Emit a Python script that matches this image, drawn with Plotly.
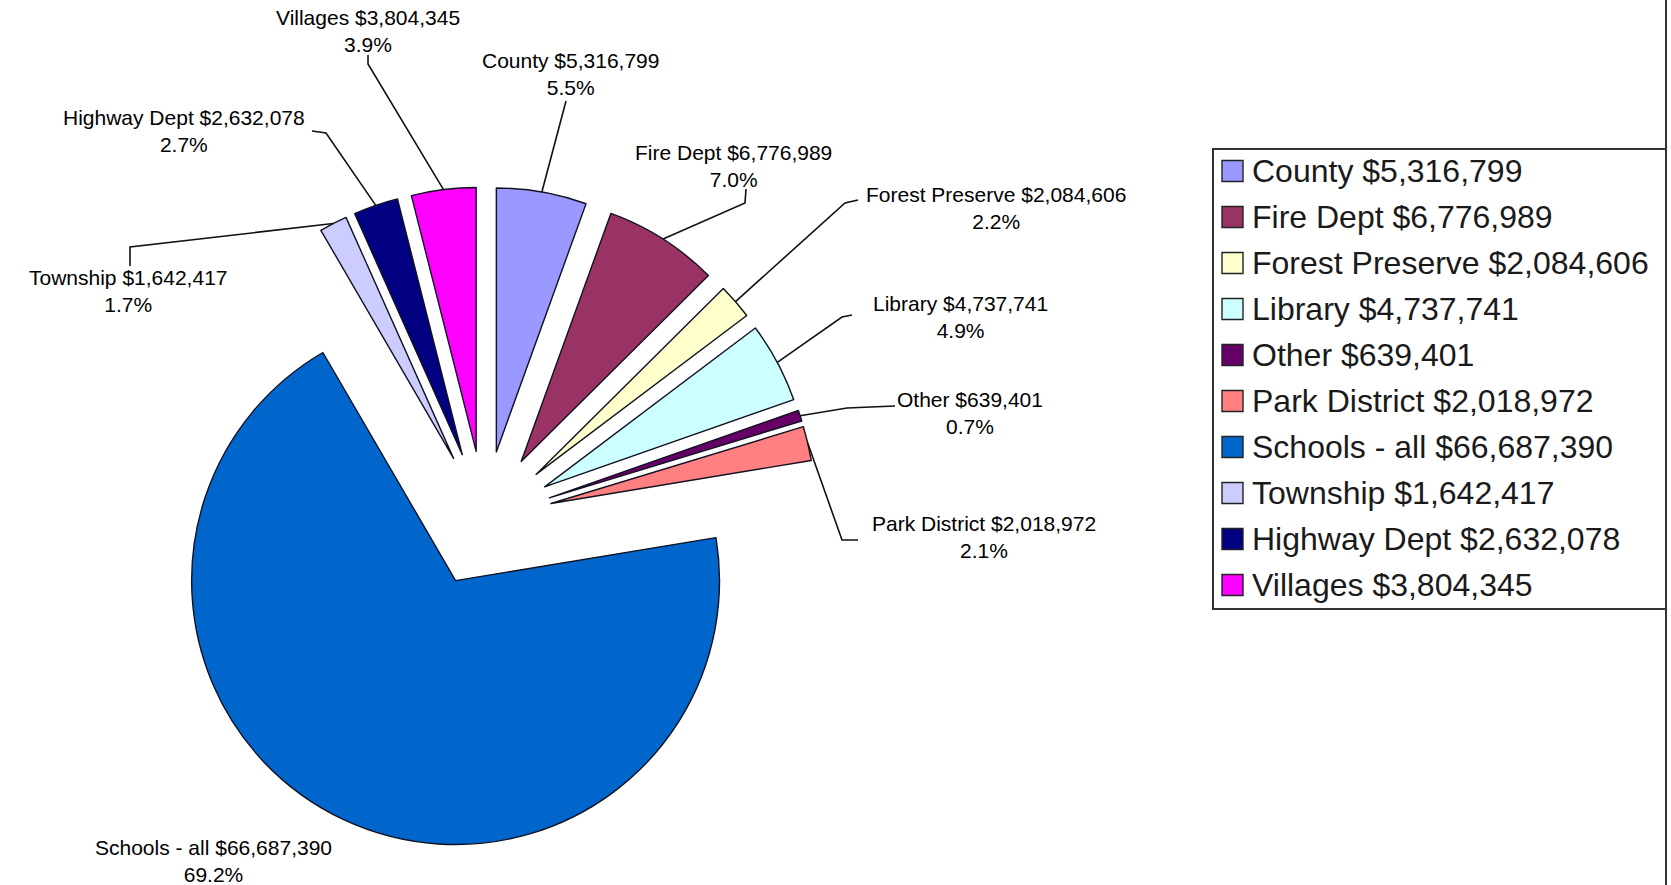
import math
import plotly.graph_objects as go

categories = ["County", "Fire Dept", "Forest Preserve", "Library", "Other",
              "Park District", "Schools - all", "Township", "Highway Dept", "Villages"]
values = [5316799, 6776989, 2084606, 4737741, 639401,
          2018972, 66687390, 1642417, 2632078, 3804345]
colors = ["#9999FF", "#993366", "#FFFFCC", "#CCFFFF", "#660066",
          "#FF8080", "#0066CC", "#CCCCFF", "#000080", "#FF00FF"]

# label block centres (px) and leader-line elbow points (px) near each label
label_pos = {
    "County": (570, 74), "Fire Dept": (733, 166), "Forest Preserve": (996, 208),
    "Library": (960, 317), "Other": (970, 413), "Park District": (984, 537),
    "Schools - all": (213, 861), "Township": (128, 291), "Highway Dept": (184, 131),
    "Villages": (368, 31),
}
leader_pts = {
    "County": [(566, 101)], "Fire Dept": [(746, 189), (745, 203)],
    "Forest Preserve": [(858, 200), (845, 203)], "Library": [(852, 315), (842, 317)],
    "Other": [(895, 406), (847, 408)], "Park District": [(858, 540), (842, 540)],
    "Schools - all": [], "Township": [(130, 266), (130, 247)],
    "Highway Dept": [(312, 131), (326, 133)], "Villages": [(368, 55), (368, 64)],
}

W, H = 1671, 885
DX = [0.085, 0.495]
DY = [0.0384, 0.7887]
PULL = 0.258

total = sum(values)
cx = W * (DX[0] + DX[1]) / 2
cy = H * (1 - (DY[0] + DY[1]) / 2)
R = min(W * (DX[1] - DX[0]) / 2, H * (DY[1] - DY[0]) / 2) / (1 + PULL)

def px2paper(p):
    return p[0] / W, 1 - p[1] / H

fig = go.Figure(go.Pie(
    labels=[f"{c} ${v:,}" for c, v in zip(categories, values)],
    values=values, sort=False, direction="clockwise", rotation=0,
    pull=[PULL] * len(values), textinfo="none",
    marker=dict(colors=colors, line=dict(color="#111122", width=1.4)),
    domain=dict(x=DX, y=DY), showlegend=False,
))

shapes, annotations = [], []
cum = 0.0
for c, v in zip(categories, values):
    frac = v / total
    mid = (cum + frac / 2) * 2 * math.pi
    cum += frac
    ux, uy = math.sin(mid), -math.cos(mid)
    ex, ey = cx + R * (1 + PULL) * ux, cy + R * (1 + PULL) * uy
    lx, ly = label_pos[c]
    annotations.append(dict(
        x=lx / W, y=1 - ly / H, xref="paper", yref="paper", showarrow=False,
        text=f"{c} ${v:,}<br>{frac*100:.1f}%", xanchor="center", yanchor="middle",
        font=dict(family="Liberation Sans, Arial", size=21, color="#000"),
    ))
    pts = leader_pts[c]
    if pts:
        pts = pts + [(ex, ey)]
        path = "M " + " L ".join(f"{px2paper(p)[0]:.5f},{px2paper(p)[1]:.5f}" for p in pts)
        shapes.append(dict(type="path", path=path, xref="paper", yref="paper",
                           line=dict(color="#111", width=1.6)))

# manual legend
LX0, LY0, LX1, LY1 = 1213, 149, 1666, 609
shapes.append(dict(type="rect", xref="paper", yref="paper",
                   x0=LX0 / W, x1=LX1 / W, y0=1 - LY1 / H, y1=1 - LY0 / H,
                   line=dict(color="#333", width=2), fillcolor="rgba(0,0,0,0)"))
shapes.append(dict(type="line", xref="paper", yref="paper",
                   x0=1666 / W, x1=1666 / W, y0=0, y1=1, line=dict(color="#333", width=2)))
for i, (c, v, col) in enumerate(zip(categories, values, colors)):
    yc = 171 + 46 * i
    shapes.append(dict(type="rect", xref="paper", yref="paper",
                       x0=1222 / W, x1=1243 / W, y0=1 - (yc + 10.5) / H, y1=1 - (yc - 10.5) / H,
                       fillcolor=col, line=dict(color="#222", width=1.4)))
    annotations.append(dict(x=1250 / W, y=1 - yc / H, xref="paper", yref="paper",
                            showarrow=False, xanchor="left", yanchor="middle",
                            text=f"{c} ${v:,}",
                            font=dict(family="Liberation Sans, Arial", size=32, color="#1a1a1a")))

fig.update_layout(
    width=W, height=H, margin=dict(l=0, r=0, t=0, b=0),
    paper_bgcolor="white", plot_bgcolor="white",
    shapes=shapes, annotations=annotations,
)
fig.write_html("out.html")
